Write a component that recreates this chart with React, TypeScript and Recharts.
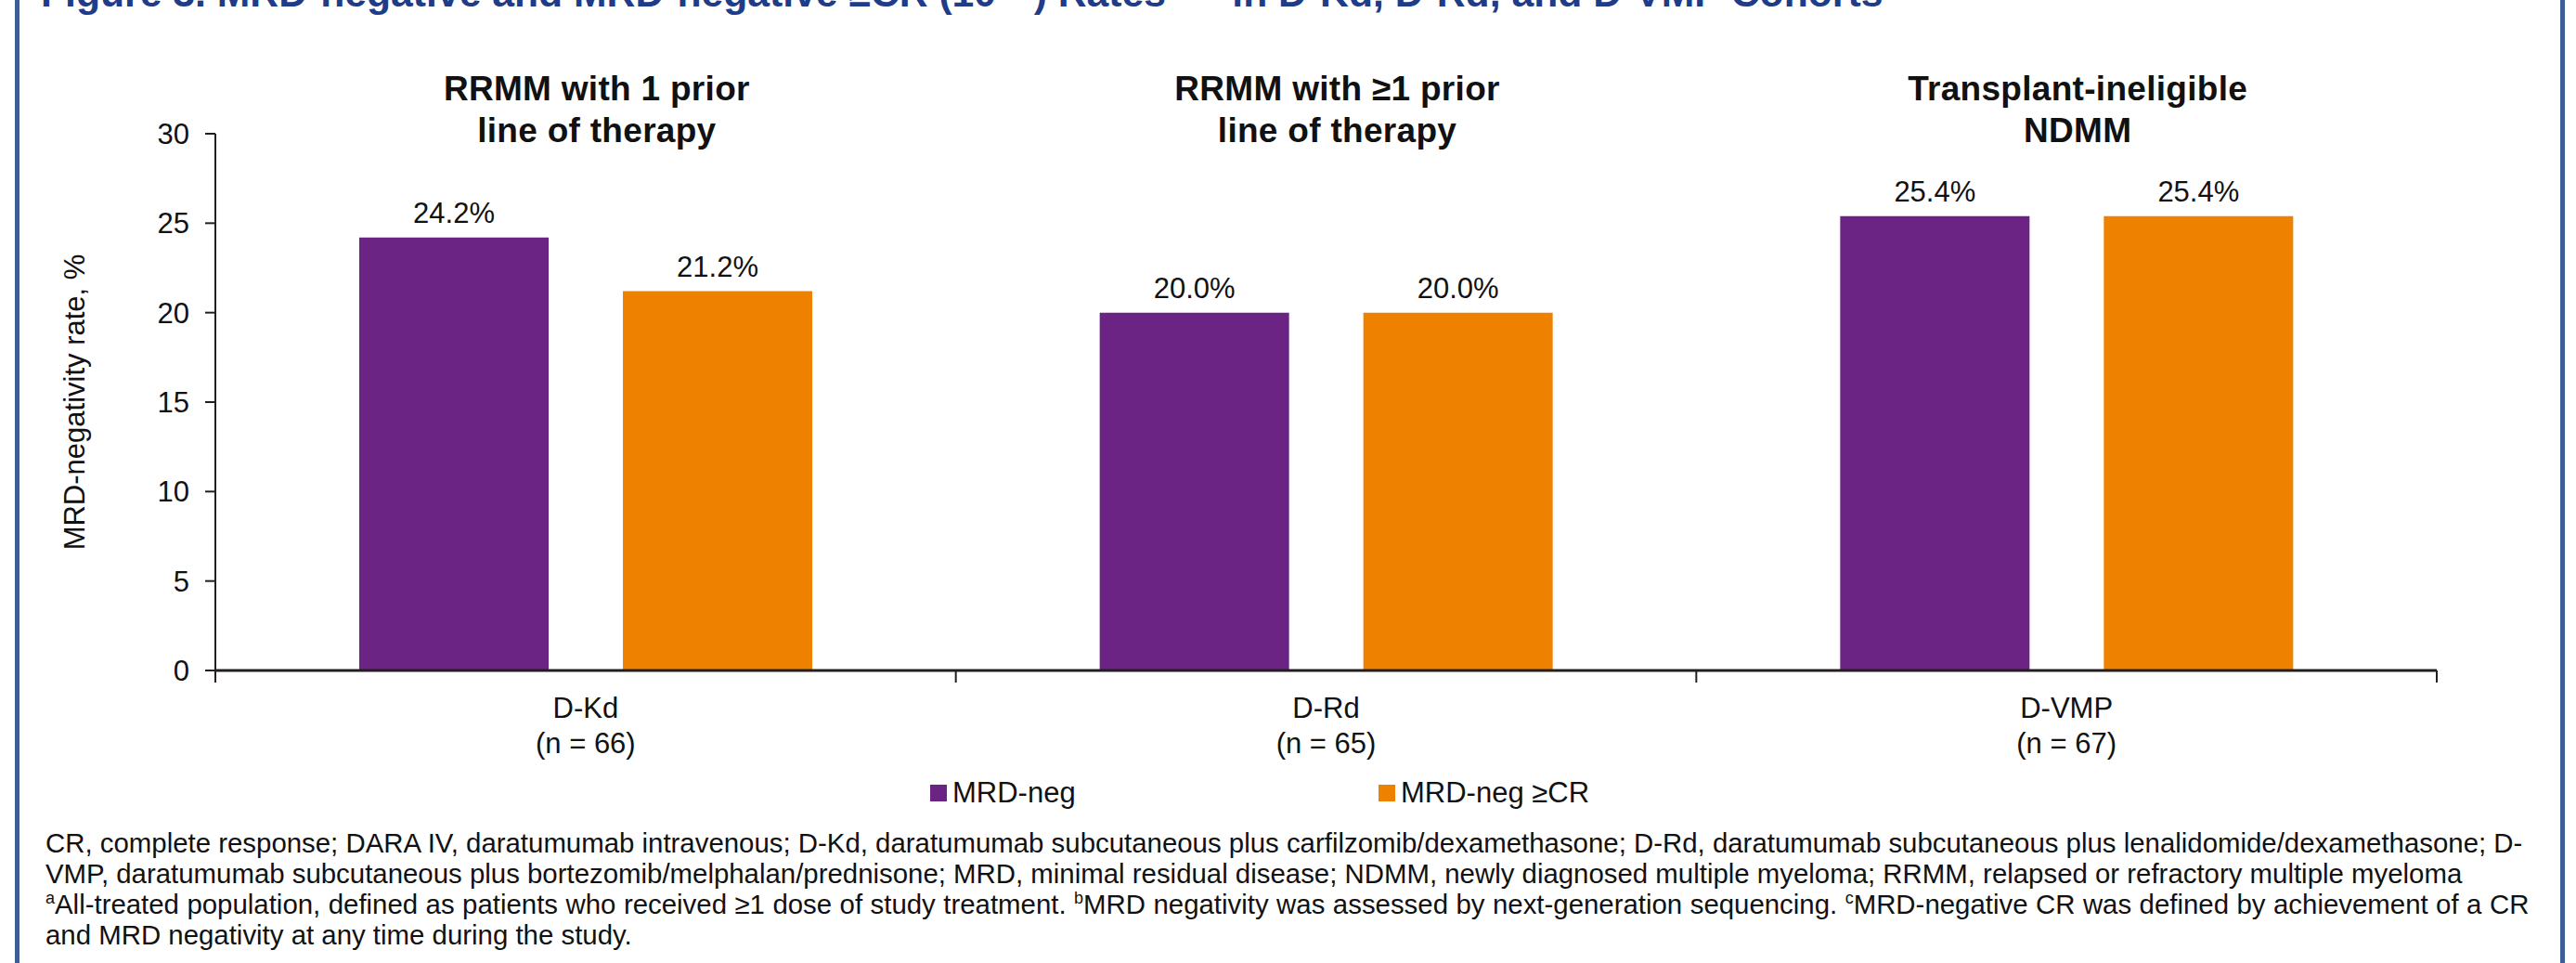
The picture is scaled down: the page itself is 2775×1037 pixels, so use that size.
import React from "react";
import { BarChart, Bar, XAxis, YAxis, LabelList } from "recharts";

const cohorts = ["D-Kd", "D-Rd", "D-VMP"];
const cohortN = [66, 65, 67];
const groupTitles = [
  ["RRMM with 1 prior", "line of therapy"],
  ["RRMM with ≥1 prior", "line of therapy"],
  ["Transplant-ineligible", "NDMM"],
];
const mrdNeg = [24.2, 20.0, 25.4];
const mrdNegCR = [21.2, 20.0, 25.4];
const yTicks = [0, 5, 10, 15, 20, 25, 30];
// integer = cohort boundary tick, half = cohort label
const xTicks = [0, 0.5, 1, 1.5, 2, 2.5, 3];

const series = [
  { key: "mrdNeg", name: "MRD-neg", color: "#6b2483" },
  { key: "mrdNegCR", name: "MRD-neg ≥CR", color: "#ee8200" },
];

const data = cohorts.map((c, i) => ({
  cohort: c,
  slot: i + 0.5,
  mrdNeg: mrdNeg[i],
  mrdNegCR: mrdNegCR[i],
}));

const ink = "#111111";
const axisInk = "#231f20";

const TitleTick = (props: any) => {
  const { x, y, index } = props;
  const lines = groupTitles[index] || [];
  return (
    <text x={x + 12} textAnchor="middle" fontSize={37} fontWeight="bold" letterSpacing={0.3} fill={ink}>
      <tspan x={x + 12} y={y - 36}>{lines[0]}</tspan>
      <tspan x={x + 12} y={y + 9}>{lines[1]}</tspan>
    </text>
  );
};

const CohortTick = (props: any) => {
  const { x, y, payload } = props;
  const v = payload.value;
  if (Number.isInteger(v)) {
    return <line x1={x} x2={x} y1={y} y2={y + 13} stroke={axisInk} strokeWidth={2} />;
  }
  const i = Math.floor(v);
  return (
    <text textAnchor="middle" fontSize={31} fill={ink}>
      <tspan x={x} y={y + 51}>{cohorts[i]}</tspan>
      <tspan x={x} y={y + 89}>(n = {cohortN[i]})</tspan>
    </text>
  );
};

const YLabel = (props: any) => {
  const { viewBox } = props;
  const cx = viewBox.x + 80;
  const cy = viewBox.y + viewBox.height / 2;
  return (
    <text
      x={cx}
      y={cy}
      transform={`rotate(-90 ${cx} ${cy})`}
      textAnchor="middle"
      dominantBaseline="central"
      fontSize={31}
      fill={ink}
    >
      MRD-negativity rate, %
    </text>
  );
};

const supStyle = { fontSize: 18, lineHeight: 0 };

export default function App() {
  return (
    <div
      style={{
        position: "absolute",
        left: 0,
        top: 0,
        width: 2775,
        height: 1037,
        overflow: "hidden",
        background: "#fff",
        fontFamily: "'Liberation Sans', Arial, Helvetica, sans-serif",
        color: ink,
      }}
    >
      <div
        style={{
          position: "absolute",
          left: 16,
          top: 0,
          width: 2747,
          height: 1037,
          boxSizing: "border-box",
          borderLeft: "5px solid #3b5f95",
          borderRight: "5px solid #3b5f95",
        }}
      />
      <div
        style={{
          position: "absolute",
          left: 44,
          top: -41,
          fontSize: 42.7,
          lineHeight: "43px",
          fontWeight: "bold",
          color: "#1f3c88",
          whiteSpace: "nowrap",
        }}
      >
        Figure 3. MRD-negative and MRD-negative ≥CR (10<sup>−5</sup>) Rates<sup>a–c</sup> in D-Kd, D-Rd, and D-VMP Cohorts
      </div>

      <BarChart
        width={2775}
        height={1037}
        data={data}
        margin={{ top: 34, right: 150, bottom: 205, left: 0 }}
        barSize={204}
        barGap={80}
      >
        <XAxis xAxisId="cat" dataKey="cohort" hide height={0} />
        <XAxis
          xAxisId="top"
          dataKey="cohort"
          orientation="top"
          height={110}
          axisLine={false}
          tickLine={false}
          tickSize={0}
          tickMargin={0}
          interval={0}
          tick={<TitleTick />}
        />
        <XAxis
          xAxisId="grid"
          dataKey="slot"
          type="number"
          domain={[0, 3]}
          allowDataOverflow
          ticks={xTicks}
          height={110}
          interval={0}
          axisLine={{ stroke: axisInk, strokeWidth: 3 }}
          tickLine={false}
          tickSize={0}
          tickMargin={0}
          tick={<CohortTick />}
        />
        <YAxis
          domain={[0, 30]}
          ticks={yTicks}
          width={232}
          interval={0}
          axisLine={{ stroke: axisInk, strokeWidth: 2 }}
          tickLine={{ stroke: axisInk, strokeWidth: 2 }}
          tickSize={11}
          tickMargin={17}
          tick={{ fill: ink, fontSize: 31 }}
          label={<YLabel />}
        />
        {series.map((s) => (
          <Bar
            key={s.key}
            xAxisId="cat"
            dataKey={s.key}
            name={s.name}
            fill={s.color}
            isAnimationActive={false}
          >
            <LabelList
              dataKey={s.key}
              position="top"
              offset={16}
              fontSize={31}
              fill={ink}
              formatter={(v: any) => `${Number(v).toFixed(1)}%`}
            />
          </Bar>
        ))}
      </BarChart>

      <div
        style={{
          position: "absolute",
          left: 1002,
          top: 836,
          display: "flex",
          fontSize: 31,
          lineHeight: "36px",
        }}
      >
        {series.map((s, i) => (
          <div
            key={s.key}
            style={{ display: "flex", alignItems: "center", width: i === 0 ? 483 : "auto" }}
          >
            <span style={{ width: 18, height: 18, background: s.color, marginRight: 6, display: "inline-block" }} />
            {s.name}
          </div>
        ))}
      </div>

      <div
        style={{
          position: "absolute",
          left: 49,
          top: 891,
          fontSize: 29.4,
          lineHeight: "33px",
          whiteSpace: "nowrap",
        }}
      >
        <div>
          CR, complete response; DARA IV, daratumumab intravenous; D-Kd, daratumumab subcutaneous plus carfilzomib/dexamethasone; D-Rd, daratumumab subcutaneous plus lenalidomide/dexamethasone; D-
        </div>
        <div>
          VMP, daratumumab subcutaneous plus bortezomib/melphalan/prednisone; MRD, minimal residual disease; NDMM, newly diagnosed multiple myeloma; RRMM, relapsed or refractory multiple myeloma
        </div>
        <div style={{ wordSpacing: 0.3 }}>
          <sup style={supStyle}>a</sup>All-treated population, defined as patients who received ≥1 dose of study treatment. <sup style={supStyle}>b</sup>MRD negativity was assessed by next-generation sequencing. <sup style={supStyle}>c</sup>MRD-negative CR was defined by achievement of a CR
        </div>
        <div>and MRD negativity at any time during the study.</div>
      </div>
    </div>
  );
}
